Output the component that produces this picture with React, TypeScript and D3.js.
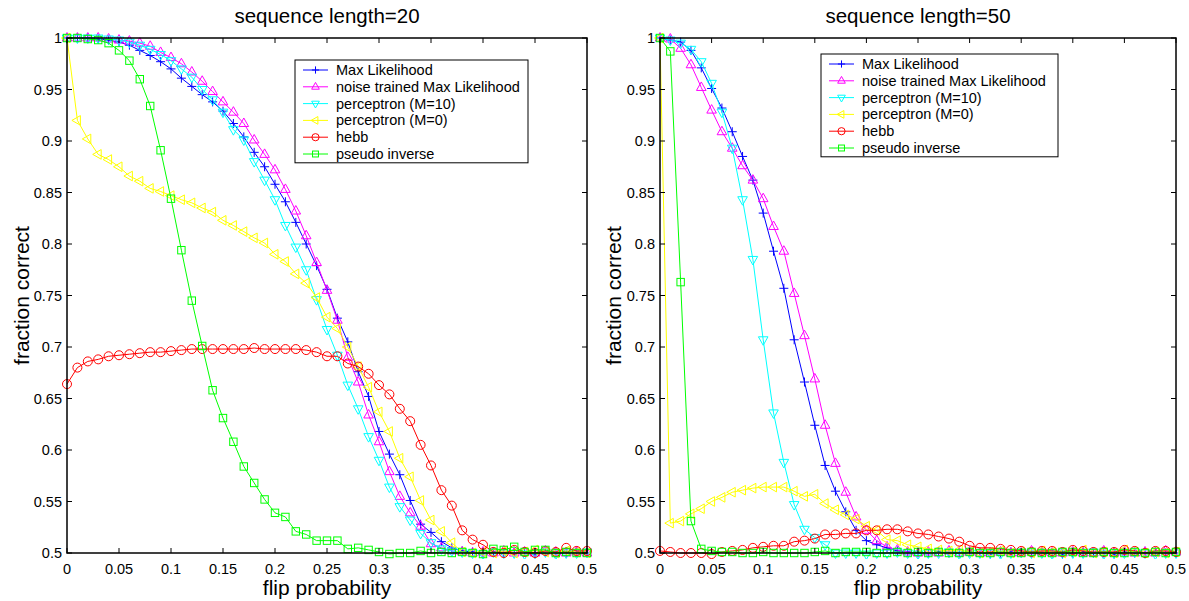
import * as d3 from "d3";

// flip probabilities (x values shared by every series)
const probs = [
  0, 0.01, 0.02, 0.03, 0.04, 0.05, 0.06, 0.07, 0.08, 0.09, 0.1, 0.11, 0.12, 0.13, 0.14, 0.15, 0.16,
  0.17, 0.18, 0.19, 0.2, 0.21, 0.22, 0.23, 0.24, 0.25, 0.26, 0.27, 0.28, 0.29, 0.3, 0.31, 0.32, 0.33,
  0.34, 0.35, 0.36, 0.37, 0.38, 0.39, 0.4, 0.41, 0.42, 0.43, 0.44, 0.45, 0.46, 0.47, 0.48, 0.49, 0.5,
];

const xTicks = [0, 0.05, 0.1, 0.15, 0.2, 0.25, 0.3, 0.35, 0.4, 0.45, 0.5];
const yTicks = [0.5, 0.55, 0.6, 0.65, 0.7, 0.75, 0.8, 0.85, 0.9, 0.95, 1];

const seriesNames = [
  "Max Likelihood",
  "noise trained Max Likelihood",
  "perceptron (M=10)",
  "perceptron (M=0)",
  "hebb",
  "pseudo inverse",
];

// ---- sequence length = 20 ----
const ml20 = [1, 1, 1, 0.999, 0.998, 0.996, 0.993, 0.988, 0.983, 0.977, 0.97, 0.961, 0.953, 0.945, 0.938, 0.929, 0.917, 0.904, 0.889, 0.875, 0.858, 0.841, 0.821, 0.8, 0.779, 0.756, 0.728, 0.705, 0.676, 0.652, 0.618, 0.596, 0.576, 0.551, 0.528, 0.52, 0.511, 0.505, 0.502, 0.501, 0.5, 0.501, 0.5, 0.5, 0.501, 0.499, 0.501, 0.5, 0.5, 0.501, 0.5];
const noise20 = [1, 1, 1, 1, 0.999, 0.998, 0.997, 0.995, 0.992, 0.986, 0.981, 0.975, 0.967, 0.958, 0.948, 0.938, 0.928, 0.917, 0.901, 0.887, 0.872, 0.853, 0.832, 0.808, 0.782, 0.755, 0.726, 0.69, 0.666, 0.634, 0.608, 0.579, 0.555, 0.539, 0.526, 0.509, 0.505, 0.502, 0.501, 0.5, 0.501, 0.5, 0.502, 0.5, 0.501, 0.5, 0.502, 0.501, 0.5, 0.501, 0.5];
const perc10_20 = [1, 1, 1, 1, 0.999, 0.998, 0.996, 0.993, 0.989, 0.984, 0.978, 0.97, 0.962, 0.95, 0.94, 0.928, 0.911, 0.901, 0.88, 0.862, 0.843, 0.818, 0.797, 0.775, 0.746, 0.717, 0.692, 0.663, 0.64, 0.613, 0.59, 0.564, 0.545, 0.532, 0.519, 0.51, 0.504, 0.502, 0.501, 0.5, 0.499, 0.501, 0.5, 0.5, 0.499, 0.5, 0.501, 0.499, 0.5, 0.5, 0.501];
const perc0_20 = [1, 0.92, 0.902, 0.887, 0.882, 0.875, 0.866, 0.861, 0.854, 0.851, 0.847, 0.843, 0.84, 0.835, 0.831, 0.823, 0.818, 0.812, 0.806, 0.801, 0.79, 0.783, 0.771, 0.762, 0.748, 0.729, 0.718, 0.7, 0.681, 0.661, 0.637, 0.618, 0.592, 0.574, 0.551, 0.532, 0.521, 0.51, 0.501, 0.5, 0.501, 0.5, 0.502, 0.5, 0.501, 0.503, 0.501, 0.5, 0.502, 0.501, 0.5];
const hebb20 = [0.664, 0.68, 0.686, 0.688, 0.691, 0.692, 0.693, 0.694, 0.695, 0.695, 0.696, 0.697, 0.698, 0.698, 0.698, 0.698, 0.698, 0.698, 0.699, 0.698, 0.698, 0.698, 0.698, 0.697, 0.695, 0.691, 0.691, 0.684, 0.681, 0.674, 0.663, 0.654, 0.64, 0.628, 0.605, 0.585, 0.561, 0.546, 0.522, 0.513, 0.508, 0.501, 0.5, 0.503, 0.501, 0.5, 0.502, 0.501, 0.505, 0.502, 0.502];
const pinv20 = [1, 1, 0.999, 0.998, 0.995, 0.988, 0.978, 0.96, 0.934, 0.891, 0.844, 0.794, 0.745, 0.701, 0.658, 0.631, 0.608, 0.584, 0.568, 0.552, 0.539, 0.535, 0.521, 0.518, 0.512, 0.512, 0.512, 0.504, 0.505, 0.503, 0.501, 0.499, 0.5, 0.5, 0.502, 0.5, 0.501, 0.5, 0.501, 0.5, 0.499, 0.504, 0.503, 0.506, 0.501, 0.503, 0.503, 0.5, 0.501, 0.5, 0.5];

// ---- sequence length = 50 ----
const ml50 = [1, 0.998, 0.996, 0.988, 0.971, 0.951, 0.932, 0.909, 0.885, 0.862, 0.83, 0.793, 0.757, 0.707, 0.666, 0.624, 0.585, 0.56, 0.54, 0.522, 0.512, 0.508, 0.505, 0.502, 0.501, 0.5, 0.5, 0.501, 0.5, 0.5, 0.501, 0.5, 0.499, 0.5, 0.501, 0.5, 0.5, 0.501, 0.5, 0.499, 0.5, 0.501, 0.5, 0.5, 0.499, 0.501, 0.5, 0.5, 0.501, 0.5, 0.5];
const noise50 = [1, 0.999, 0.99, 0.974, 0.952, 0.93, 0.909, 0.893, 0.876, 0.862, 0.844, 0.817, 0.793, 0.752, 0.711, 0.669, 0.624, 0.587, 0.559, 0.535, 0.522, 0.512, 0.506, 0.503, 0.501, 0.5, 0.501, 0.5, 0.502, 0.5, 0.501, 0.5, 0.5, 0.501, 0.5, 0.5, 0.502, 0.501, 0.5, 0.5, 0.501, 0.5, 0.5, 0.502, 0.5, 0.501, 0.5, 0.501, 0.5, 0.502, 0.501];
const perc10_50 = [1, 0.998, 0.995, 0.989, 0.977, 0.956, 0.928, 0.893, 0.843, 0.785, 0.707, 0.636, 0.588, 0.547, 0.523, 0.515, 0.508, 0.5, 0.5, 0.5, 0.499, 0.5, 0.5, 0.501, 0.5, 0.499, 0.5, 0.5, 0.501, 0.499, 0.5, 0.5, 0.5, 0.499, 0.5, 0.501, 0.5, 0.5, 0.499, 0.5, 0.5, 0.5, 0.501, 0.499, 0.5, 0.5, 0.501, 0.5, 0.499, 0.5, 0.5];
const perc0_50 = [1, 0.529, 0.531, 0.538, 0.543, 0.55, 0.554, 0.559, 0.561, 0.563, 0.564, 0.564, 0.564, 0.56, 0.555, 0.557, 0.548, 0.542, 0.537, 0.533, 0.526, 0.522, 0.513, 0.512, 0.508, 0.506, 0.504, 0.503, 0.502, 0.503, 0.501, 0.5, 0.501, 0.502, 0.5, 0.501, 0.5, 0.502, 0.501, 0.5, 0.501, 0.503, 0.5, 0.501, 0.5, 0.503, 0.501, 0.5, 0.501, 0.5, 0.501];
const hebb50 = [0.502, 0.501, 0.5, 0.5, 0.5, 0.499, 0.501, 0.502, 0.503, 0.505, 0.506, 0.507, 0.507, 0.511, 0.512, 0.514, 0.518, 0.518, 0.519, 0.519, 0.522, 0.522, 0.523, 0.523, 0.521, 0.519, 0.518, 0.516, 0.514, 0.511, 0.507, 0.505, 0.505, 0.504, 0.503, 0.502, 0.501, 0.502, 0.502, 0.501, 0.503, 0.502, 0.501, 0.501, 0.501, 0.503, 0.502, 0.5, 0.502, 0.502, 0.501];
const pinv50 = [1, 0.987, 0.763, 0.531, 0.504, 0.502, 0.501, 0.501, 0.5, 0.5, 0.501, 0.5, 0.5, 0.5, 0.5, 0.501, 0.502, 0.5, 0.501, 0.501, 0.501, 0.5, 0.5, 0.501, 0.5, 0.501, 0.5, 0.501, 0.5, 0.5, 0.501, 0.5, 0.5, 0.501, 0.5, 0.5, 0.501, 0.5, 0.5, 0.501, 0.501, 0.5, 0.5, 0.501, 0.5, 0.5, 0.501, 0.5, 0.501, 0.5, 0.501];

const colors = ["#0000ff", "#ff00ff", "#00ffff", "#ffff00", "#ff0000", "#00ff00"];
const markers = ["plus", "up", "down", "left", "circle", "square"];

const FONT = "'Liberation Sans', Arial, Helvetica, sans-serif";

function Marker({ kind, x, y, color, s = 1 }: { kind: string; x: number; y: number; color: string; s?: number }) {
  const common = { fill: "none", stroke: color, strokeWidth: 1 };
  if (kind === "circle") return <circle cx={x} cy={y} r={4.5 * s} {...common} />;
  if (kind === "square")
    return <rect x={x - 3.7 * s} y={y - 3.7 * s} width={7.4 * s} height={7.4 * s} {...common} />;
  let d = "";
  if (kind === "plus") d = "M-4.5,0H4.5M0,-4.5V4.5";
  if (kind === "up") d = "M0,-5.5L4.8,3L-4.8,3Z";
  if (kind === "down") d = "M0,5.5L4.8,-3L-4.8,-3Z";
  if (kind === "left") d = "M-5.5,0L3,-4.8L3,4.8Z";
  return <path d={d} transform={`translate(${x},${y}) scale(${s})`} vectorEffect="non-scaling-stroke" {...common} />;
}

type PanelProps = {
  title: string;
  data: number[][];
  left: number;
  right: number;
  legendX: number;
  legendY: number;
  legendW: number;
  yLabelX: number;
};

function Panel({ title, data, left, right, legendX, legendY, legendW, yLabelX }: PanelProps) {
  const top = 38;
  const bottom = 553;
  const x = d3.scaleLinear().domain([0, 0.5]).range([left, right]);
  const y = d3.scaleLinear().domain([0.5, 1]).range([bottom, top]);
  const fmt = (v: number) => String(+v.toFixed(2));
  const ln = d3
    .line<number>()
    .x((_, i) => x(probs[i]))
    .y((d) => y(d));
  const tick = 5;
  const rowH = 16.8;
  const legH = rowH * seriesNames.length + 2;

  return (
    <g fontFamily={FONT}>
      <text x={(left + right) / 2} y={23} textAnchor="middle" fontSize={20.5}>
        {title}
      </text>
      <defs>
        <clipPath id={`clip-${left}`}>
          <rect x={left - 6} y={top - 6} width={right - left + 12} height={bottom - top + 12} />
        </clipPath>
      </defs>
      <g clipPath={`url(#clip-${left})`}>
        {data.map((vals, si) => (
          <g key={si}>
            <path d={ln(vals) || ""} fill="none" stroke={colors[si]} strokeWidth={1} />
            {vals.map((v, i) => (
              <Marker key={i} kind={markers[si]} x={x(probs[i])} y={y(v)} color={colors[si]} />
            ))}
          </g>
        ))}
      </g>
      {/* frame */}
      <rect x={left} y={top} width={right - left} height={bottom - top} fill="none" stroke="#000" strokeWidth={1.5} />
      {xTicks.map((t) => (
        <g key={`x${t}`}>
          <line x1={x(t)} x2={x(t)} y1={bottom} y2={bottom - tick} stroke="#000" />
          <line x1={x(t)} x2={x(t)} y1={top} y2={top + tick} stroke="#000" />
          <text x={x(t)} y={574} textAnchor="middle" fontSize={14.5}>
            {fmt(t)}
          </text>
        </g>
      ))}
      {yTicks.map((t) => (
        <g key={`y${t}`}>
          <line x1={left} x2={left + tick} y1={y(t)} y2={y(t)} stroke="#000" />
          <line x1={right} x2={right - tick} y1={y(t)} y2={y(t)} stroke="#000" />
          <text x={left - 5} y={y(t)} dy="0.35em" textAnchor="end" fontSize={14.5}>
            {fmt(t)}
          </text>
        </g>
      ))}
      <text x={(left + right) / 2} y={595} textAnchor="middle" fontSize={21}>
        flip probability
      </text>
      <text
        transform={`translate(${yLabelX},${(top + bottom) / 2}) rotate(-90)`}
        textAnchor="middle"
        fontSize={21}
      >
        fraction correct
      </text>
      {/* legend */}
      <g transform={`translate(${legendX},${legendY})`}>
        <rect x={0} y={0} width={legendW} height={legH} fill="#fff" stroke="#000" strokeWidth={1} />
        {seriesNames.map((name, i) => {
          const cy = 10 + i * rowH;
          return (
            <g key={name}>
              <line x1={8} x2={33} y1={cy} y2={cy} stroke={colors[i]} strokeWidth={1} />
              <Marker kind={markers[i]} x={20.5} y={cy} color={colors[i]} s={0.8} />
              <text x={41} y={cy} dy="0.35em" fontSize={14.5}>
                {name}
              </text>
            </g>
          );
        })}
      </g>
    </g>
  );
}

export default function App() {
  return (
    <svg
      width={1189}
      height={601}
      style={{ position: "absolute", left: 0, top: 0, background: "#fff" }}
    >
      <rect width={1189} height={601} fill="#fff" />
      <Panel
        title="sequence length=20"
        data={[ml20, noise20, perc10_20, perc0_20, hebb20, pinv20]}
        left={67}
        right={587}
        legendX={295}
        legendY={60}
        legendW={233}
        yLabelX={29}
      />
      <Panel
        title="sequence length=50"
        data={[ml50, noise50, perc10_50, perc0_50, hebb50, pinv50]}
        left={660}
        right={1176}
        legendX={821}
        legendY={54}
        legendW={237}
        yLabelX={621}
      />
    </svg>
  );
}
